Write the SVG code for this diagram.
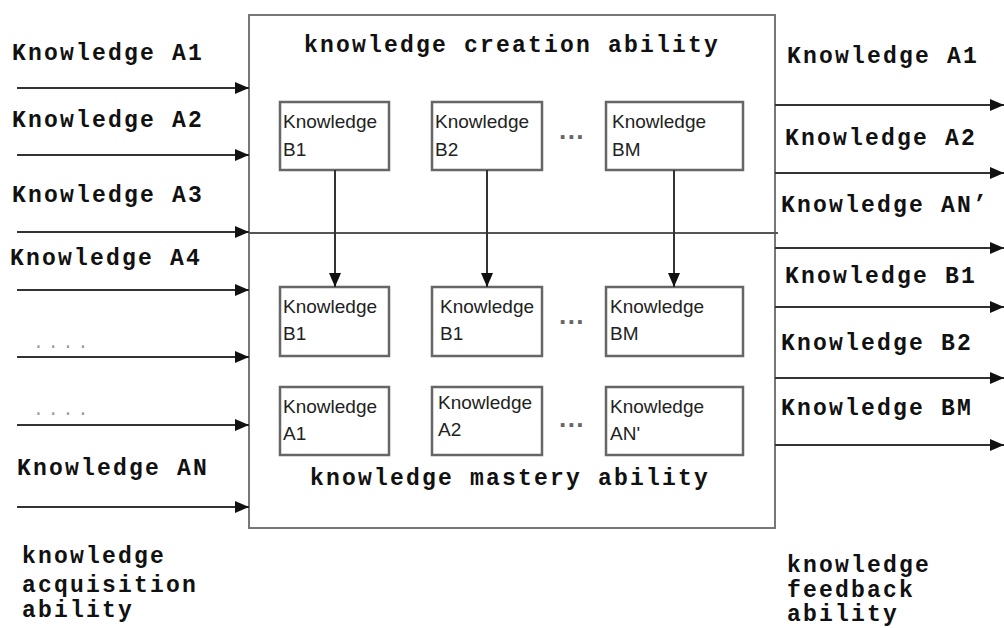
<svg xmlns="http://www.w3.org/2000/svg" width="1004" height="628" viewBox="0 0 1004 628">
<style>
.lbl{font-family:"Liberation Mono",monospace;font-weight:bold;font-size:23px;letter-spacing:2.2px;fill:#111}
.box{fill:#fff;stroke:#666;stroke-width:2.5}
.bt{font-family:"Liberation Sans",Arial,sans-serif;font-size:19px;fill:#222}
.ln{stroke:#333;stroke-width:2;fill:none}
.dots{font-family:"Liberation Sans",sans-serif;font-size:26px;fill:#666;font-weight:bold}
.gd{font-family:"Liberation Mono",monospace;font-size:18px;fill:#999;letter-spacing:4px}
</style>
<defs>
<marker id="ah" viewBox="0 0 14 12" refX="14" refY="6" markerWidth="14" markerHeight="12" markerUnits="userSpaceOnUse" orient="auto">
<path d="M0,0 L14,6 L0,12 z" fill="#111"/>
</marker>
</defs>
<rect width="1004" height="628" fill="#fff"/>
<g id="main">
<rect x="249" y="15" width="526" height="513" fill="#fff" stroke="#777" stroke-width="2"/>
<line x1="249" y1="233" x2="778" y2="233" stroke="#555" stroke-width="2"/>
<text class="lbl" x="304" y="52">knowledge creation ability</text>
<text class="lbl" x="310" y="485">knowledge mastery ability</text>
</g>
<g id="top-row">
<g id="tB1"><rect class="box" x="280" y="102" width="109" height="68"/><text class="bt" x="283" y="128">Knowledge</text><text class="bt" x="283" y="156">B1</text></g>
<g id="tB2"><rect class="box" x="432" y="102" width="110" height="68"/><text class="bt" x="435" y="128">Knowledge</text><text class="bt" x="435" y="156">B2</text></g>
<text class="dots" x="559" y="146">···</text>
<g id="tBM"><rect class="box" x="606" y="102" width="137" height="68"/><text class="bt" x="612" y="128">Knowledge</text><text class="bt" x="612" y="156">BM</text></g>
</g>
<g id="mid-row">
<g id="mB1"><rect class="box" x="280" y="287" width="109" height="69"/><text class="bt" x="283" y="313">Knowledge</text><text class="bt" x="283" y="340">B1</text></g>
<g id="mB1b"><rect class="box" x="432" y="287" width="110" height="69"/><text class="bt" x="440" y="313">Knowledge</text><text class="bt" x="440" y="340">B1</text></g>
<text class="dots" x="559" y="331">···</text>
<g id="mBM"><rect class="box" x="606" y="287" width="137" height="69"/><text class="bt" x="610" y="313">Knowledge</text><text class="bt" x="610" y="340">BM</text></g>
</g>
<g id="bot-row">
<g id="bA1"><rect class="box" x="280" y="387" width="109" height="68"/><text class="bt" x="283" y="413">Knowledge</text><text class="bt" x="283" y="440">A1</text></g>
<g id="bA2"><rect class="box" x="432" y="387" width="110" height="68"/><text class="bt" x="438" y="409">Knowledge</text><text class="bt" x="438" y="436">A2</text></g>
<text class="dots" x="559" y="434">···</text>
<g id="bAN"><rect class="box" x="606" y="387" width="137" height="68"/><text class="bt" x="610" y="413">Knowledge</text><text class="bt" x="610" y="440">AN'</text></g>
</g>
<g id="connectors">
<line class="ln" x1="335" y1="170" x2="335" y2="287" marker-end="url(#ah)"/>
<line class="ln" x1="487" y1="170" x2="487" y2="287" marker-end="url(#ah)"/>
<line class="ln" x1="674" y1="170" x2="674" y2="287" marker-end="url(#ah)"/>
<line class="ln" x1="17" y1="88" x2="249" y2="88" marker-end="url(#ah)"/>
<line class="ln" x1="17" y1="155" x2="249" y2="155" marker-end="url(#ah)"/>
<line class="ln" x1="17" y1="232" x2="249" y2="232" marker-end="url(#ah)"/>
<line class="ln" x1="17" y1="290" x2="249" y2="290" marker-end="url(#ah)"/>
<line class="ln" x1="17" y1="357" x2="249" y2="357" marker-end="url(#ah)"/>
<line class="ln" x1="17" y1="425" x2="249" y2="425" marker-end="url(#ah)"/>
<line class="ln" x1="17" y1="507" x2="249" y2="507" marker-end="url(#ah)"/>
<line class="ln" x1="775" y1="105" x2="1004" y2="105" marker-end="url(#ah)"/>
<line class="ln" x1="775" y1="173" x2="1004" y2="173" marker-end="url(#ah)"/>
<line class="ln" x1="775" y1="248" x2="1004" y2="248" marker-end="url(#ah)"/>
<line class="ln" x1="775" y1="307" x2="1004" y2="307" marker-end="url(#ah)"/>
<line class="ln" x1="775" y1="378" x2="1004" y2="378" marker-end="url(#ah)"/>
<line class="ln" x1="775" y1="445" x2="1004" y2="445" marker-end="url(#ah)"/>
</g>
<g id="left-labels">
<text class="lbl" x="12" y="60">Knowledge A1</text>
<text class="lbl" x="12" y="127">Knowledge A2</text>
<text class="lbl" x="12" y="202">Knowledge A3</text>
<text class="lbl" x="10" y="265">Knowledge A4</text>
<text class="gd" x="33" y="348">....</text>
<text class="gd" x="33" y="415">....</text>
<text class="lbl" x="17" y="475">Knowledge AN</text>
<text class="lbl" x="22" y="563">knowledge</text>
<text class="lbl" x="22" y="592">acquisition</text>
<text class="lbl" x="22" y="617">ability</text>
</g>
<g id="right-labels">
<text class="lbl" x="787" y="63">Knowledge A1</text>
<text class="lbl" x="785" y="145">Knowledge A2</text>
<text class="lbl" x="781" y="212">Knowledge AN’</text>
<text class="lbl" x="785" y="283">Knowledge B1</text>
<text class="lbl" x="781" y="350">Knowledge B2</text>
<text class="lbl" x="781" y="415">Knowledge BM</text>
<text class="lbl" x="787" y="572">knowledge</text>
<text class="lbl" x="787" y="597">feedback</text>
<text class="lbl" x="787" y="621">ability</text>
</g>
</svg>
